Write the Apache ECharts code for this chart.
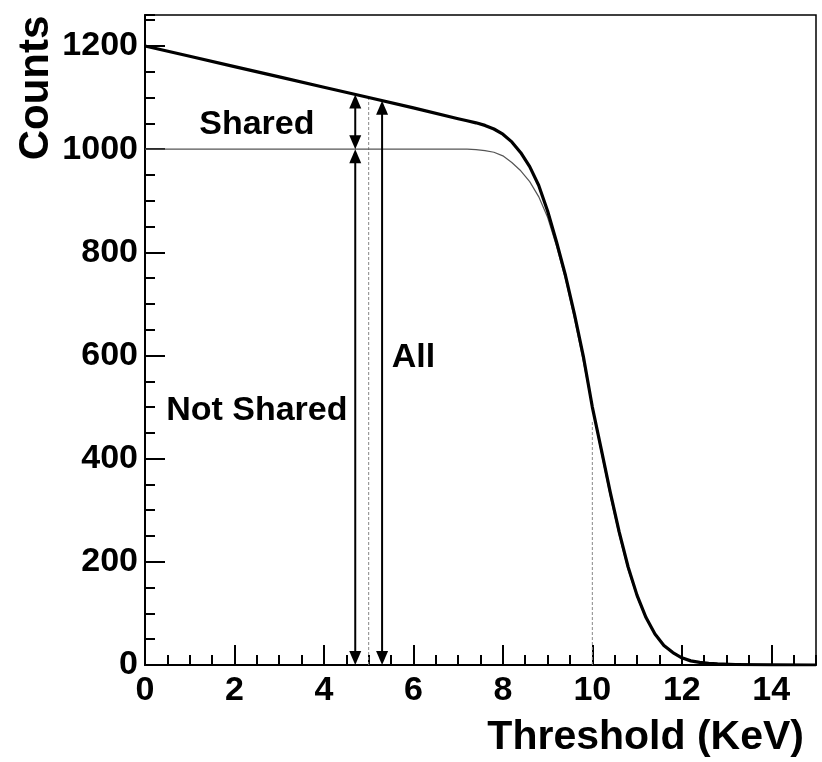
<!DOCTYPE html>
<html>
<head>
<meta charset="utf-8">
<script src="https://cdn.jsdelivr.net/npm/echarts@6/dist/echarts.min.js"></script>
<style>
  html, body { margin: 0; padding: 0; background: #fff; }
  #chart { width: 822px; height: 762px; }
</style>
</head>
<body>
<div id="chart"></div>
<script>
// Threshold scan: counted events vs. discriminator threshold
const thresholdKeV = [0, 1, 2, 3, 4, 5, 6, 7, 7.2, 7.4, 7.6, 7.8, 8.0, 8.2, 8.4, 8.6,
  8.8, 9.0, 9.2, 9.4, 9.6, 9.8, 10.0, 10.2, 10.4, 10.6, 10.8, 11.0, 11.2, 11.4, 11.6,
  11.8, 12.0, 12.2, 12.4, 12.6, 12.8, 13.2, 14, 15];
const allCounts = [1200, 1180, 1160, 1140, 1120, 1100, 1080, 1059, 1055, 1051, 1046,
  1039, 1029, 1014, 993, 966, 930, 880, 820, 755, 680, 598, 500, 418, 335, 258, 190,
  135, 92, 60, 38, 24, 14, 8, 5, 3, 2, 1, 0.3, 0];
const notSharedCounts = [1000, 1000, 1000, 1000, 1000, 1000, 1000, 1000, 1000, 999,
  997, 994, 987, 974, 958, 937, 908, 868, 812, 748, 672, 588, 500, 412, 328, 252, 185,
  132, 90, 59, 37, 23, 13, 8, 5, 3, 2, 1, 0.3, 0];

// Vertical double-headed arrows: [x, from, to]
const arrows = [
  [4.7, 1000, 1106],
  [4.7, 0, 1000],
  [5.3, 0, 1094]
];
// Dotted guide lines: [x, from, to]
const guides = [
  [5, 0, 1100],
  [10, 0, 475]
];
// Region labels: [x, y, text]
const regionLabels = [
  [2.5, 1047, 'Shared'],
  [2.5, 494, 'Not Shared'],
  [6.0, 595, 'All']
];

const xTicks = { min: 0, max: 15, major: 2, minor: 0.5 };
const yTicks = { min: 0, max: 1260, major: 200, minor: 50 };

const FONT = 'Liberation Sans, Arial, Helvetica, sans-serif';

const pairs = (xs, ys) => xs.map((x, i) => [x, ys[i]]);

const chart = echarts.init(document.getElementById('chart'));

function minorAxis(t, pos) {
  return {
    type: 'value', position: pos, min: t.min, max: t.max, interval: t.minor,
    axisLine: { show: false, onZero: false },
    axisTick: { show: true, inside: true, length: 10, lineStyle: { color: '#000', width: 2 } },
    axisLabel: { show: false },
    splitLine: { show: false }
  };
}
function majorAxis(t, pos) {
  return {
    type: 'value', position: pos, min: t.min, max: t.max, interval: t.major,
    axisLine: { show: true, onZero: false, lineStyle: { color: '#000', width: 2 } },
    axisTick: { show: true, inside: true, length: 20, lineStyle: { color: '#000', width: 2 } },
    axisLabel: {
      show: true, showMaxLabel: false, color: '#000', fontFamily: FONT,
      fontWeight: 'bold', fontSize: 34, margin: pos === 'left' ? 7 : 9,
      formatter: (v) => String(v)
    },
    splitLine: { show: false }
  };
}

const option = {
  animation: false,
  backgroundColor: '#fff',
  grid: {
    left: 145, right: 6, top: 15, bottom: 97,
    show: true, borderColor: '#000', borderWidth: 1.5, backgroundColor: 'transparent'
  },
  xAxis: [majorAxis(xTicks, 'bottom'), minorAxis(xTicks, 'bottom')],
  yAxis: [majorAxis(yTicks, 'left'), minorAxis(yTicks, 'left')],
  graphic: [
    {
      type: 'text', x: 36, y: 88, rotation: Math.PI / 2,
      style: {
        text: 'Counts', fill: '#000', font: 'bold 42px ' + FONT,
        textAlign: 'center', textVerticalAlign: 'middle'
      }
    },
    {
      type: 'text', x: 804, y: 738,
      style: {
        text: 'Threshold (KeV)', fill: '#000', font: 'bold 41px ' + FONT,
        textAlign: 'right', textVerticalAlign: 'middle'
      }
    }
  ],
  series: [
    {
      name: 'Not Shared', type: 'line', data: pairs(thresholdKeV, notSharedCounts),
      showSymbol: false, smooth: false,
      lineStyle: { color: '#555', width: 1.2 }, z: 3
    },
    {
      name: 'All', type: 'line', data: pairs(thresholdKeV, allCounts),
      showSymbol: false, smooth: false,
      lineStyle: { color: '#000', width: 3.2, join: 'round' }, z: 4
    },
    {
      name: 'guides', type: 'custom', data: guides, z: 2,
      encode: { x: 0, y: [1, 2] },
      renderItem: (params, api) => {
        const p0 = api.coord([api.value(0), api.value(1)]);
        const p1 = api.coord([api.value(0), api.value(2)]);
        return {
          type: 'line',
          shape: { x1: p0[0], y1: p0[1], x2: p1[0], y2: p1[1] },
          style: { stroke: '#888', lineWidth: 1, lineDash: [3, 2] }
        };
      }
    },
    {
      name: 'arrows', type: 'custom', data: arrows, z: 5,
      encode: { x: 0, y: [1, 2] },
      renderItem: (params, api) => {
        const p0 = api.coord([api.value(0), api.value(1)]);
        const p1 = api.coord([api.value(0), api.value(2)]);
        const w = 6, L = 14;
        return {
          type: 'group',
          children: [
            {
              type: 'line',
              shape: { x1: p0[0], y1: p0[1] - 4, x2: p1[0], y2: p1[1] + 4 },
              style: { stroke: '#000', lineWidth: 2 }
            },
            {
              type: 'polygon',
              shape: { points: [[p1[0], p1[1]], [p1[0] - w, p1[1] + L], [p1[0] + w, p1[1] + L]] },
              style: { fill: '#000' }
            },
            {
              type: 'polygon',
              shape: { points: [[p0[0], p0[1]], [p0[0] - w, p0[1] - L], [p0[0] + w, p0[1] - L]] },
              style: { fill: '#000' }
            }
          ]
        };
      }
    },
    {
      name: 'labels', type: 'custom', data: regionLabels, z: 6,
      encode: { x: 0, y: 1 },
      renderItem: (params, api) => {
        const p = api.coord([api.value(0), api.value(1)]);
        return {
          type: 'text', x: p[0], y: p[1],
          style: {
            text: regionLabels[params.dataIndex][2], fill: '#000',
            font: 'bold 34px ' + FONT, textAlign: 'center', textVerticalAlign: 'middle'
          }
        };
      }
    }
  ]
};

chart.setOption(option);
</script>
</body>
</html>
